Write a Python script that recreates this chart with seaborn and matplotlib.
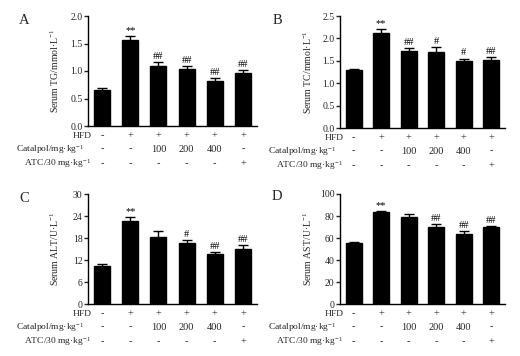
import numpy as np
import pandas as pd
import seaborn as sns
import matplotlib
matplotlib.use("Agg")
import matplotlib.pyplot as plt
from matplotlib.ticker import FormatStrFormatter

# ---- data ----
groups = ["Control", "HFD", "Cat100", "Cat200", "Cat400", "ATC"]
hfd_row = ["-", "+", "+", "+", "+", "+"]
catalpol_row = ["-", "-", "100", "200", "400", "-"]
atc_row = ["-", "-", "-", "-", "-", "+"]

tg_mean = [0.65, 1.57, 1.10, 1.04, 0.81, 0.96]
tg_err = [0.04, 0.06, 0.07, 0.05, 0.06, 0.06]
tg_sig = ["", "**", "##", "##", "##", "##"]

tc_mean = [1.29, 2.13, 1.72, 1.70, 1.49, 1.52]
tc_err = [0.02, 0.07, 0.06, 0.10, 0.06, 0.06]
tc_sig = ["", "**", "##", "#", "#", "##"]

alt_mean = [10.3, 22.6, 18.3, 16.7, 13.6, 14.9]
alt_err = [0.5, 1.1, 1.6, 0.8, 0.6, 1.1]
alt_sig = ["", "**", "", "#", "##", "##"]

ast_mean = [55.5, 83.2, 78.8, 70.0, 63.5, 69.6]
ast_err = [0.9, 1.5, 3.0, 2.4, 2.5, 1.6]
ast_sig = ["", "**", "", "##", "##", "##"]

panels = [
    dict(letter="A", mean=tg_mean, err=tg_err, sig=tg_sig, ylabel="Serum TG/mmol·L$^{-1}$",
         yticks=[0, 0.5, 1.0, 1.5, 2.0], fmt="%.1f"),
    dict(letter="B", mean=tc_mean, err=tc_err, sig=tc_sig, ylabel="Serum TC/mmol·L$^{-1}$",
         yticks=[0, 0.5, 1.0, 1.5, 2.0, 2.5], fmt="%.1f"),
    dict(letter="C", mean=alt_mean, err=alt_err, sig=alt_sig, ylabel="Serum ALT/U·L$^{-1}$",
         yticks=[0, 6, 12, 18, 24, 30], fmt="%d"),
    dict(letter="D", mean=ast_mean, err=ast_err, sig=ast_sig, ylabel="Serum AST/U·L$^{-1}$",
         yticks=[0, 20, 40, 60, 80, 100], fmt="%d"),
]

sns.set_style("ticks")
plt.rcParams["font.family"] = ["Liberation Serif", "DejaVu Serif"]
plt.rcParams["mathtext.fontset"] = "stix"
plt.rcParams["mathtext.default"] = "regular"

W, H = 520, 356
fig = plt.figure(figsize=(W / 100, H / 100), dpi=100)

# axes rectangles in pixels: left, right, top, bottom
rects = [(88, 257, 16, 126), (340, 505, 16, 128), (88, 257, 194, 304), (340, 505, 194, 304)]
letter_pos = [(24, 20), (277, 20), (24, 198), (277, 196)]

for p, (l, r, t, b), (lx, ly) in zip(panels, rects, letter_pos):
    ax = fig.add_axes([l / W, 1 - b / H, (r - l) / W, (b - t) / H])
    df = pd.DataFrame({"group": groups, "value": p["mean"]})
    sns.barplot(data=df, x="group", y="value", color="black", width=0.57,
                errorbar=None, ax=ax, saturation=1, edgecolor="black")
    x = np.arange(len(groups))
    ax.errorbar(x, p["mean"], yerr=p["err"], fmt="none", ecolor="black",
                elinewidth=1.0, capsize=3.5, capthick=1.0)
    top = p["yticks"][-1]
    for xi, m, e, s in zip(x, p["mean"], p["err"], p["sig"]):
        if s:
            ax.text(xi, m + e + top * 0.01, s, ha="center", va="bottom",
                    fontsize=7.5, color="black")
    ax.set_xlim(-0.5, len(groups) - 0.5)
    ax.set_ylim(0, top)
    ax.set_yticks(p["yticks"])
    ax.yaxis.set_major_formatter(FormatStrFormatter(p["fmt"]))
    ax.set_xticks(x)
    ax.set_xticklabels([])
    ax.tick_params(axis="x", length=0)
    ax.tick_params(axis="y", length=3, width=1, labelsize=7, pad=1, direction="out")
    ax.set_xlabel("")
    ax.set_ylabel(p["ylabel"], fontsize=7)
    ax.yaxis.set_label_coords(-0.16, 0.5)
    sns.despine(ax=ax)
    for sp in ["left", "bottom"]:
        ax.spines[sp].set_linewidth(1.0)
        ax.spines[sp].set_color("black")

    # treatment rows below the axis
    rows = [(hfd_row, "HFD", 10, 4), (catalpol_row, "Catalpol/mg·kg$^{-1}$", 23, -4),
            (atc_row, "ATC/30 mg·kg$^{-1}$", 38, 3)]
    for vals, lab, dy, dx in rows:
        for xi, v in zip(x, vals):
            ax.annotate(v, xy=(xi, 0), xycoords=("data", "axes fraction"),
                        xytext=(0, -dy), textcoords="offset pixels",
                        ha="center", va="center", fontsize=7.5, annotation_clip=False)
        fig.text((l + dx) / W, 1 - (b + dy) / H, lab, ha="right", va="center", fontsize=6.8)

    fig.text(lx / W, 1 - ly / H, p["letter"], ha="center", va="center", fontsize=10.5)

fig.savefig("out.png", dpi=100, facecolor="white")
